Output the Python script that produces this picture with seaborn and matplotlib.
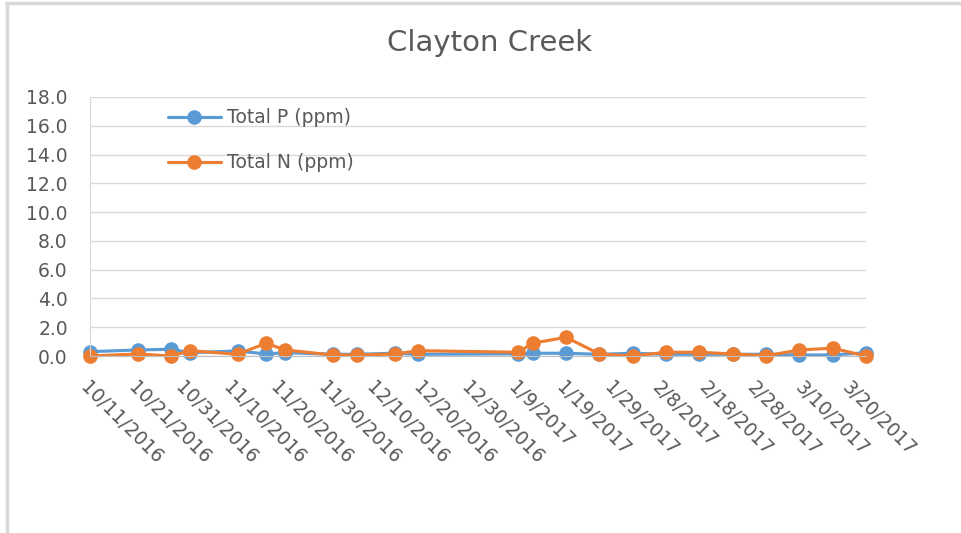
import pandas as pd
import seaborn as sns
import matplotlib.pyplot as plt
from matplotlib.lines import Line2D

# sample dates and readings (ppm)
dates = ['2016-10-11', '2016-10-21', '2016-10-28', '2016-11-01', '2016-11-11',
         '2016-11-17', '2016-11-21', '2016-12-01', '2016-12-06', '2016-12-14',
         '2016-12-19', '2017-01-09', '2017-01-12', '2017-01-19', '2017-01-26',
         '2017-02-02', '2017-02-09', '2017-02-16', '2017-02-23', '2017-03-02',
         '2017-03-09', '2017-03-16', '2017-03-23']
total_p = [0.30, 0.42, 0.47, 0.23, 0.35, 0.14, 0.23, 0.12, 0.12, 0.19,
           0.12, 0.15, 0.19, 0.19, 0.12, 0.19, 0.12, 0.12, 0.12, 0.12,
           0.07, 0.07, 0.23]
total_n = [0.0, 0.14, 0.0, 0.37, 0.12, 0.89, 0.42, 0.07, 0.07, 0.14,
           0.37, 0.26, 0.89, 1.30, 0.14, 0.0, 0.26, 0.26, 0.14, 0.02,
           0.42, 0.54, 0.0]
tick_dates = pd.date_range('2016-10-11', '2017-03-20', freq='10D')
yticks = [0, 2, 4, 6, 8, 10, 12, 14, 16, 18]

dates = pd.to_datetime(dates)
grey = '#595959'

sns.set_style('white')
plt.rcParams['font.family'] = ['DejaVu Sans']

fig = plt.figure(figsize=(9.61, 5.33), dpi=100)
ax = fig.add_axes([90/961, 177/533, 776/961, 259/533])

line_kw = dict(marker='o', markersize=10.5, markeredgewidth=0, linewidth=2.25, clip_on=False)
sns.lineplot(x=dates, y=total_p, color='#5B9BD5', label='Total P (ppm)', ax=ax, **line_kw)
sns.lineplot(x=dates, y=total_n, color='#ED7D31', label='Total N (ppm)', ax=ax, **line_kw)

ax.set_xlim(dates[0], dates[-1])
ax.set_ylim(0, 18)
ax.set_yticks(yticks)
ax.set_yticklabels([f'{v:.1f}' for v in yticks])
ax.set_xticks(tick_dates)
ax.set_xticklabels([f'{d.month}/{d.day}/{d.year}' for d in tick_dates],
                   rotation=-45, ha='left', va='top', rotation_mode='anchor')
ax.tick_params(axis='both', length=0, labelsize=13.5, colors=grey)
ax.tick_params(axis='y', pad=16)
ax.tick_params(axis='x', pad=16)
ax.yaxis.grid(True, color='#d9d9d9', linewidth=1)
ax.set_axisbelow(True)
for s in ['top', 'right']:
    ax.spines[s].set_visible(False)
ax.spines['left'].set_color('#d9d9d9')
ax.spines['bottom'].set_color('#bfbfbf')
ax.set_xlabel('')
ax.set_ylabel('')

ax.legend(loc='upper left', bbox_to_anchor=(0.1, 0.957), frameon=False, fontsize=13.5,
          handlelength=2.85, handletextpad=0.3, labelspacing=1.4,
          borderpad=0, borderaxespad=0, labelcolor=grey)

fig.text(490/961, 1 - 43/533, 'Clayton Creek', ha='center', va='center', fontsize=21, color=grey)

# chart frame edges
fig.add_artist(Line2D([6/961, 1], [1 - 3/533, 1 - 3/533], color='#d9d9d9', linewidth=2.5, transform=fig.transFigure))
fig.add_artist(Line2D([7/961, 7/961], [0, 1 - 3/533], color='#d9d9d9', linewidth=2.5, transform=fig.transFigure))

fig.savefig('out.png', dpi=100)
